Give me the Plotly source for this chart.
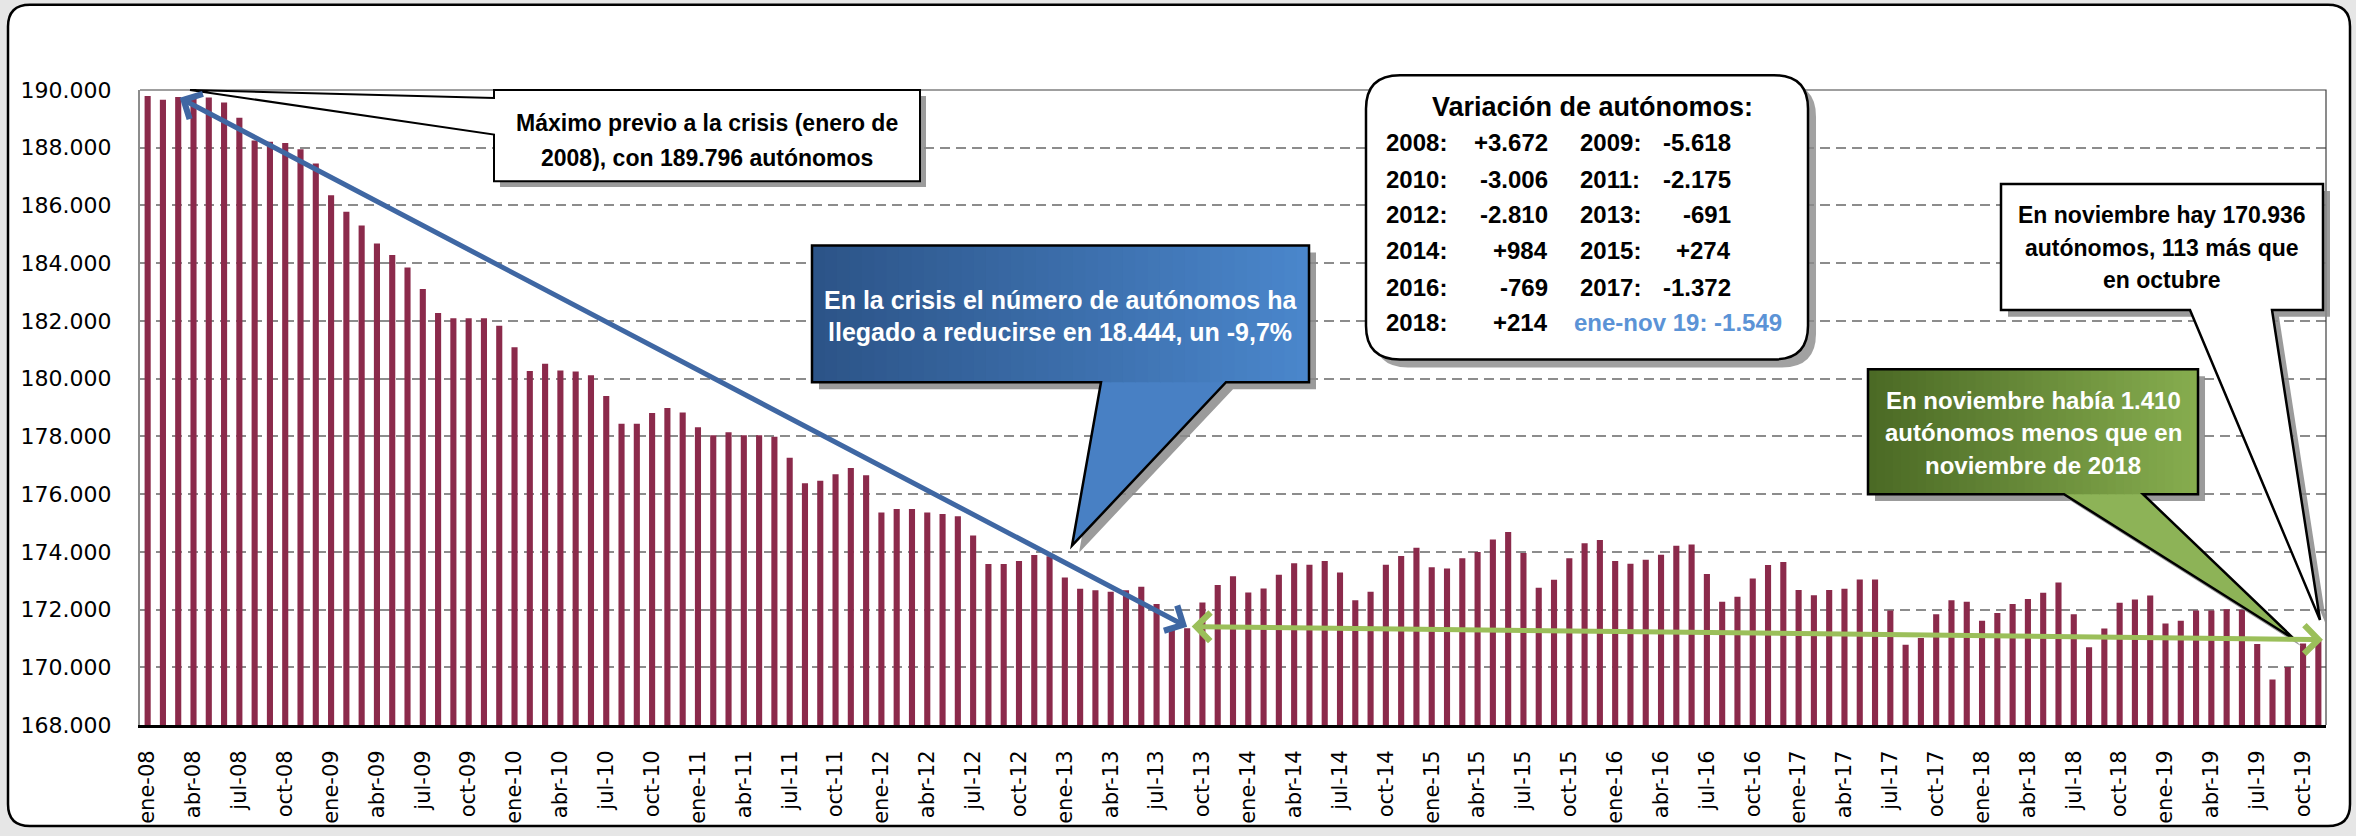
import plotly.graph_objects as go

# ---------------- data ----------------
MESES = ["ene", "feb", "mar", "abr", "may", "jun", "jul", "ago", "sep", "oct", "nov", "dic"]
ANIOS = ["08", "09", "10", "11", "12", "13", "14", "15", "16", "17", "18", "19"]
months = [f"{m}-{a}" for a in ANIOS for m in MESES][:143]

v2008 = [189796, 189660, 189760, 189700, 189740, 189570, 189040, 188250, 188210, 188160, 187950, 187454]
v2009 = [186354, 185783, 185303, 184686, 184286, 183851, 183109, 182274, 182091, 182091, 182091, 181836]
v2010 = [181086, 180263, 180514, 180286, 180251, 180114, 179400, 178441, 178441, 178808, 178980, 178830]
v2011 = [178315, 178040, 178143, 178040, 178040, 177983, 177261, 176378, 176458, 176688, 176905, 176655]
v2012 = [175358, 175484, 175484, 175358, 175312, 175232, 174567, 173582, 173582, 173685, 173891, 173845]
v2013 = [173112, 172722, 172665, 172620, 172665, 172791, 172190, 171380, 171352, 172240, 172850, 173154]
v2014 = [172590, 172730, 173205, 173600, 173556, 173682, 173281, 172318, 172616, 173556, 173853, 174138]
v2015 = [173464, 173418, 173773, 173991, 174426, 174690, 173956, 172754, 173029, 173773, 174300, 174412]
v2016 = [173682, 173590, 173727, 173899, 174208, 174254, 173235, 172273, 172445, 173075, 173544, 173643]
v2017 = [172674, 172491, 172674, 172719, 173040, 173040, 171963, 170783, 171013, 171837, 172318, 172271]
v2018 = [171609, 171883, 172192, 172364, 172582, 172937, 171837, 170692, 171345, 172238, 172346, 172485]
v2019 = [171517, 171609, 171963, 171963, 172009, 171990, 170810, 169577, 170012, 170823, 170936]
values = v2008 + v2009 + v2010 + v2011 + v2012 + v2013 + v2014 + v2015 + v2016 + v2017 + v2018 + v2019

tick_labels = months[::3]
y_ticks = list(range(168000, 190001, 2000))
y_tick_text = [f"{v:,}".replace(",", ".") for v in y_ticks]

var_left_years = ["2008:", "2010:", "2012:", "2014:", "2016:", "2018:"]
var_left_vals = ["+3.672", "-3.006", "-2.810", "+984", "-769", "+214"]
var_right_years = ["2009:", "2011:", "2013:", "2015:", "2017:"]
var_right_vals = ["-5.618", "-2.175", "-691", "+274", "-1.372"]
var_last = "ene-nov 19: -1.549"

txt_max = ["Máximo previo a la crisis (enero de", "2008), con 189.796 autónomos"]
txt_crisis = ["En la crisis el número de autónomos ha", "llegado a reducirse en 18.444, un -9,7%"]
txt_green = ["En noviembre había 1.410", "autónomos menos que en", "noviembre de 2018"]
txt_white = ["En noviembre hay 170.936", "autónomos, 113 más que", "en octubre"]

# ---------------- geometry helpers (pixel -> paper) ----------------
W, H = 2356, 836
L, R, T, B = 140, 2326, 90, 731


def fx(x):
    return (x - L) / (R - L)


def fy(y):
    return (B - y) / (B - T)


def path(points, close=True):
    s = "M " + " L ".join(f"{fx(x):.5f},{fy(y):.5f}" for x, y in points)
    return s + (" Z" if close else "")


def rrect_path(x0, y0, x1, y1, r):
    P = lambda x, y: f"{fx(x):.5f},{fy(y):.5f}"
    return (f"M {P(x0 + r, y0)} L {P(x1 - r, y0)} Q {P(x1, y0)} {P(x1, y0 + r)} "
            f"L {P(x1, y1 - r)} Q {P(x1, y1)} {P(x1 - r, y1)} L {P(x0 + r, y1)} "
            f"Q {P(x0, y1)} {P(x0, y1 - r)} L {P(x0, y0 + r)} Q {P(x0, y0)} {P(x0 + r, y0)} Z")


def lerp_color(c0, c1, t):
    a = [int(c0[i:i + 2], 16) for i in (1, 3, 5)]
    b = [int(c1[i:i + 2], 16) for i in (1, 3, 5)]
    return "#" + "".join(f"{round(a[i] + (b[i] - a[i]) * t):02x}" for i in range(3))


shapes = []
SH = dict(xref="paper", yref="paper")

# outer rounded frame
shapes.append(dict(type="path", path=rrect_path(8, 4, 2350, 833, 22), fillcolor="white",
                   line=dict(color="black", width=2.5), layer="below", **SH))

# plot area thin border (top / right)
shapes.append(dict(type="path", path=path([(L, T), (R, T), (R, B)], close=False),
                   line=dict(color="#404040", width=1.2), **SH))


def tail_poly(tail, ybase):
    return [(tail[0][0], ybase - 1)] + tail + [(tail[-1][0], ybase - 1)]


def callout(box, tail, fill0, fill1, tailfill, shadow=7, outline="black", n=40):
    x0, y0, x1, y1 = box
    poly = [(x0, y0), (x1, y0), (x1, y1)] + tail + [(x0, y1)]
    shapes.append(dict(type="path", path=path([(x + shadow, y + shadow) for x, y in poly]),
                       fillcolor="#8a8a8a", line=dict(width=0), opacity=0.85, **SH))
    if fill0 == fill1:
        shapes.append(dict(type="path", path=path(poly), fillcolor=fill0, line=dict(width=0), **SH))
    else:
        shapes.append(dict(type="path", path=path(tail_poly(tail, y1)), fillcolor=tailfill,
                           line=dict(width=0), **SH))
        w = (x1 - x0) / n
        for i in range(n):
            c = lerp_color(fill0, fill1, i / (n - 1))
            shapes.append(dict(type="rect", x0=fx(x0 + i * w), x1=fx(min(x1, x0 + (i + 1) * w + 1)),
                               y0=fy(y1), y1=fy(y0), fillcolor=c, line=dict(width=0), **SH))
    shapes.append(dict(type="path", path=path(poly), fillcolor="rgba(0,0,0,0)",
                       line=dict(color=outline, width=2.5), **SH))


# "Máximo" callout (pointer on the left side)
mx0, my0, mx1, my1 = 494, 90, 920, 182
max_poly = [(mx0, my0), (mx1, my0), (mx1, my1), (mx0, my1), (mx0, 135), (190, 90), (mx0, 98)]
shapes.append(dict(type="path", path=path([(x + 6, y + 6) for x, y in max_poly[:4]]),
                   fillcolor="#8a8a8a", line=dict(width=0), opacity=0.85, **SH))
shapes.append(dict(type="path", path=path(max_poly), fillcolor="white",
                   line=dict(color="black", width=2), **SH))

# variation box (rounded)
vb = (1366, 75, 1808, 362)
shapes.append(dict(type="path", path=rrect_path(vb[0] + 8, vb[1] + 8, vb[2] + 8, vb[3] + 8, 34),
                   fillcolor="#8a8a8a", line=dict(width=0), opacity=0.8, **SH))
shapes.append(dict(type="path", path=rrect_path(*vb, 34), fillcolor="white",
                   line=dict(color="black", width=2.5), **SH))

# blue callout
callout((812, 247, 1309, 385), [(1226, 385), (1072, 550), (1101, 385)],
        "#2C5488", "#4A86CB", "#4880C4")
# green callout
callout((1868, 372, 2198, 498), [(2143, 498), (2295, 645), (2064, 498)],
        "#4B6A25", "#86AC4E", "#8DB357")
# white callout top right
callout((2001, 185, 2323, 312), [(2272, 312), (2320, 625), (2190, 312)],
        "#ffffff", "#ffffff", "#ffffff")

# ---------------- annotations ----------------
BOLD = "Liberation Sans, Arial, sans-serif"
ann = []


def text(x, y, s, size, color="black", xanchor="center", family=BOLD):
    ann.append(dict(x=fx(x), y=fy(y), xref="paper", yref="paper", text=f"<b>{s}</b>",
                    showarrow=False, xanchor=xanchor, yanchor="middle",
                    font=dict(family=family, size=size, color=color)))


for i, s in enumerate(txt_max):
    text((mx0 + mx1) / 2, 123 + i * 36, s, 23)
for i, s in enumerate(txt_crisis):
    text(1060, 302 + i * 32, s, 25, "white")
for i, s in enumerate(txt_green):
    text(2033, 403 + i * 33, s, 24, "white")
for i, s in enumerate(txt_white):
    text(2162, 216 + i * 33, s, 23)

text(1592, 107, "Variación de autónomos:", 27)
row_y = [143, 180, 216, 252, 289, 325]
for i, (yr, vv) in enumerate(zip(var_left_years, var_left_vals)):
    text(1384, row_y[i], yr, 24, xanchor="left")
    text(1550, row_y[i], vv, 24, xanchor="right")
for i, (yr, vv) in enumerate(zip(var_right_years, var_right_vals)):
    text(1578, row_y[i], yr, 24, xanchor="left")
    text(1733, row_y[i], vv, 24, xanchor="right")
text(1784, row_y[5], var_last, 24, color="#5B93D6", xanchor="right")

# arrows linking data points: crisis fall (max -> min of 2008-2013), then min -> last month
crisis = values[:72]
i_max = 2
i_min = crisis.index(min(crisis))
i_last = len(values) - 1
ann.append(dict(x=i_min, y=min(crisis) + 50, ax=i_max, ay=max(values) - 40,
                xref="x", yref="y", axref="x", ayref="y", text="", showarrow=True,
                arrowside="end+start", arrowhead=4, startarrowhead=4,
                arrowsize=1.1, startarrowsize=1.1, arrowwidth=5, arrowcolor="#3F67A3",
                standoff=0, startstandoff=0))
ann.append(dict(x=i_last + 0.3, y=values[-1] + 20, ax=i_min + 0.2, ay=min(crisis) + 60,
                xref="x", yref="y", axref="x", ayref="y", text="", showarrow=True,
                arrowside="end+start", arrowhead=4, startarrowhead=4,
                arrowsize=1.1, startarrowsize=1.1, arrowwidth=5, arrowcolor="#9BBF5A",
                standoff=0, startstandoff=0))

# ---------------- figure ----------------
fig = go.Figure(go.Bar(x=months, y=values, marker=dict(color="#8B2A4B", line=dict(width=0)),
                       hoverinfo="x+y"))

fig.update_layout(
    width=W, height=H,
    margin=dict(l=L, r=W - R, t=T, b=H - B),
    paper_bgcolor="#E6E6E6", plot_bgcolor="rgba(0,0,0,0)",
    bargap=0.6, showlegend=False,
    shapes=shapes, annotations=ann,
    xaxis=dict(type="category", tickmode="array", tickvals=tick_labels, ticktext=tick_labels,
               tickangle=-90, showline=True, linecolor="black", linewidth=3, showgrid=False,
               ticks="", tickfont=dict(family="DejaVu Sans", size=21, color="black"),
               ticklabelstandoff=14, range=[-0.5, 142.5], fixedrange=True),
    yaxis=dict(range=[168000, 190000], tickmode="array", tickvals=y_ticks, ticktext=y_tick_text,
               showgrid=True, gridcolor="#8C8C8C", gridwidth=2, griddash="10px,6px",
               showline=True, linecolor="#8C8C8C", linewidth=2, ticks="", zeroline=False,
               tickfont=dict(family="DejaVu Sans", size=22, color="black"),
               ticklabelstandoff=22, fixedrange=True),
)

fig.write_html("out.html", config={"displayModeBar": False},
               post_script="document.body.style.margin='0px';")
